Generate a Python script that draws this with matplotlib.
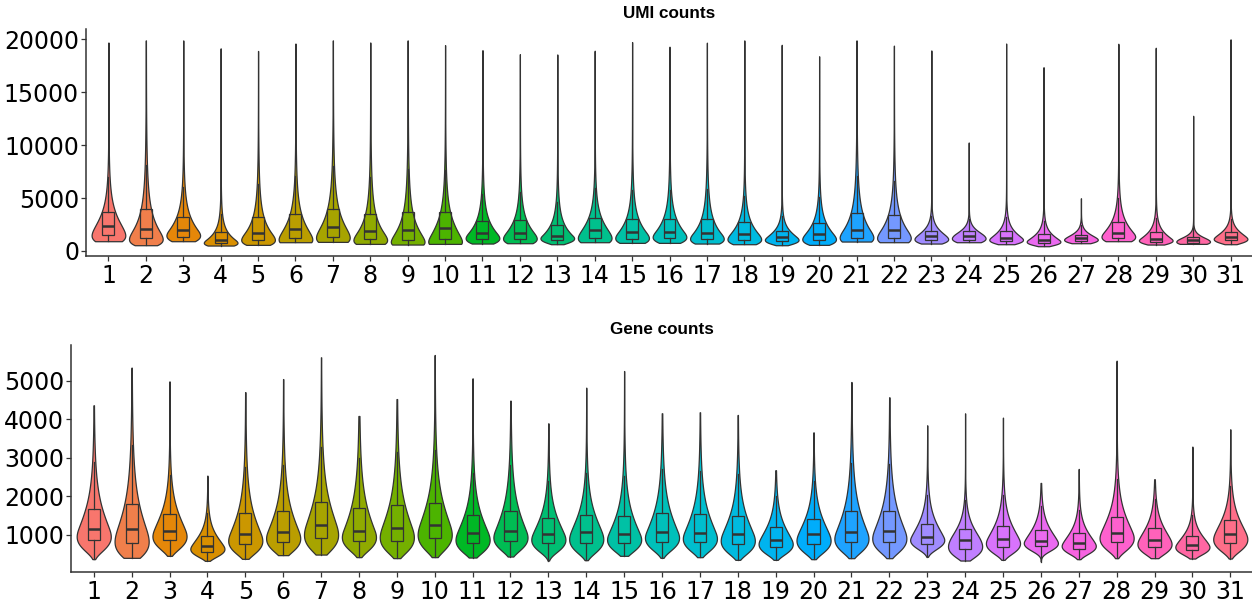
import numpy as np
import matplotlib
matplotlib.use("Agg")
import matplotlib.pyplot as plt

# ---------------- data ----------------
clusters = [str(i) for i in range(1, 32)]

umi_min = [918, 539, 918, 508, 571, 823, 854, 665, 602, 665, 697, 728, 634, 823, 760, 760,
           697, 634, 539, 571, 886, 823, 697, 823, 634, 445, 728, 918, 602, 665, 634]
umi_q1 = [1485, 1233, 1359, 728, 1075, 1201, 1359, 1107, 1075, 1138, 1138, 1138, 1075, 1233,
          1170, 1233, 1107, 1075, 949, 1075, 1264, 1233, 1012, 1075, 949, 791, 949, 1233, 886,
          791, 1012]
umi_med = [2368, 2116, 1958, 1075, 1737, 2053, 2274, 1863, 1990, 2147, 1674, 1737, 1453, 1958,
           1769, 1800, 1674, 1643, 1296, 1643, 1990, 1958, 1390, 1453, 1264, 1075, 1201, 1737,
           1170, 1044, 1327]
umi_q3 = [3692, 3976, 3219, 1832, 3188, 3535, 4008, 3471, 3724, 3724, 2841, 2904, 2494, 3125,
          2998, 3030, 2998, 2715, 1895, 2683, 3597, 3377, 1926, 1863, 1863, 1611, 1548, 2746,
          1769, 1327, 1832]
umi_max = [19700, 19900, 19900, 19150, 18900, 19600, 19900, 19700, 19900, 19450, 18980, 18600,
           18570, 18920, 19740, 19300, 19680, 19900, 19480, 18400, 19900, 19400, 18950, 10250,
           19600, 17370, 4980, 19580, 19200, 12770, 20000]

gene_min = [369, 403, 455, 325, 377, 473, 488, 421, 395, 421, 411, 437, 333, 342, 455, 403,
            420, 351, 351, 368, 394, 394, 429, 333, 351, 307, 368, 394, 394, 385, 385]
gene_q1 = [861, 784, 861, 567, 766, 818, 913, 844, 853, 913, 784, 836, 784, 801, 784, 827,
           810, 766, 680, 766, 810, 818, 775, 636, 697, 706, 636, 818, 680, 610, 792]
gene_med = [1147, 1165, 1113, 714, 1035, 1087, 1260, 1113, 1182, 1251, 1052, 1095, 1017, 1078,
            1017, 1069, 1061, 1035, 879, 1017, 1087, 1104, 939, 870, 896, 844, 784, 1061, 879,
            749, 1026]
gene_q3 = [1675, 1805, 1537, 965, 1563, 1615, 1866, 1710, 1770, 1831, 1511, 1632, 1433, 1520,
           1485, 1580, 1554, 1494, 1216, 1416, 1632, 1632, 1277, 1147, 1234, 1121, 1043, 1476,
           1182, 974, 1381]
gene_max = [4368, 5346, 4991, 2540, 4710, 5050, 5615, 4090, 4530, 5675, 5070, 4488, 3900, 4826,
            5259, 4160, 4186, 4117, 2680, 3665, 4973, 4576, 3849, 4160, 4047, 2350, 2714, 5528,
            2445, 3295, 3745]

umi_ticks = [0, 5000, 10000, 15000, 20000]
gene_ticks = [1000, 2000, 3000, 4000, 5000]


# ---------------- helpers ----------------
def hue_pal(n, c=100.0, l=65.0):
    hues = np.linspace(15, 375, n + 1)[:n]
    cols = []
    Xn, Yn, Zn = 95.047, 100.0, 108.883
    un = 4 * Xn / (Xn + 15 * Yn + 3 * Zn)
    vn = 9 * Yn / (Xn + 15 * Yn + 3 * Zn)
    for h in hues:
        hr = np.deg2rad(h)
        U, V = c * np.cos(hr), c * np.sin(hr)
        Y = Yn * ((l + 16) / 116) ** 3
        up = U / (13 * l) + un
        vp = V / (13 * l) + vn
        X = Y * 9 * up / (4 * vp)
        Z = Y * (12 - 3 * up - 20 * vp) / (4 * vp)
        X, Y, Z = X / 100, Y / 100, Z / 100
        rgb = np.array([3.240479 * X - 1.537150 * Y - 0.498535 * Z,
                        -0.969256 * X + 1.875992 * Y + 0.041556 * Z,
                        0.055648 * X - 0.204043 * Y + 1.057311 * Z])
        rgb = np.where(rgb <= 0.0031308, 12.92 * rgb, 1.055 * np.abs(rgb) ** (1 / 2.4) - 0.055)
        cols.append(tuple(np.clip(rgb, 0, 1)))
    return cols


def violin_stats(vmin, q1, med, q3, vmax):
    """Shape from the read quartiles: two-piece log-normal profile, trimmed at min/max."""
    stats = []
    for a, b, m, c, d in zip(vmin, q1, med, q3, vmax):
        coords = np.linspace(a, d, 1500)
        mu = np.log(m)
        s_lo = np.log(m / b) / 0.6745
        s_hi = np.log(c / m) / 0.6745
        t = np.log(coords)
        s = np.where(t < mu, s_lo, s_hi)
        vals = np.exp(-0.5 * ((t - mu) / s) ** 2) / coords
        stats.append(dict(coords=coords, vals=vals, mean=m, median=m, min=a, max=d))
    return stats


def box_stats(vmin, q1, med, q3, vmax):
    out = []
    for a, b, m, c, d in zip(vmin, q1, med, q3, vmax):
        out.append(dict(med=m, q1=b, q3=c, whislo=max(a, b - 1.5 * (c - b)),
                        whishi=min(d, c + 1.5 * (c - b)), fliers=[]))
    return out


colors = hue_pal(len(clusters))
positions = np.arange(1, len(clusters) + 1)
LINE = "#333333"
TICKFONT = dict(family="DejaVu Sans", size=17)

W, H = 1252, 606
fig = plt.figure(figsize=(W / 100, H / 100), dpi=100)


def panel(rect_px, title, vmin, q1, med, q3, vmax, ticks, ylim):
    x0, y0, x1, y1 = rect_px
    ax = fig.add_axes([x0 / W, 1 - y1 / H, (x1 - x0) / W, (y1 - y0) / H])
    parts = ax.violin(violin_stats(vmin, q1, med, q3, vmax), positions=positions,
                      widths=0.9, showmeans=False, showextrema=False, showmedians=False)
    for body, col in zip(parts["bodies"], colors):
        body.set_facecolor(col)
        body.set_edgecolor(LINE)
        body.set_linewidth(0.9)
        body.set_alpha(1)
    ax.bxp(box_stats(vmin, q1, med, q3, vmax), positions=positions, widths=0.32,
           patch_artist=True, showfliers=False, showcaps=False,
           boxprops=dict(facecolor="none", edgecolor=LINE, linewidth=0.9),
           medianprops=dict(color=LINE, linewidth=1.8),
           whiskerprops=dict(color=LINE, linewidth=0.9))
    ax.set_xlim(0.4, len(clusters) + 0.6)
    ax.set_ylim(*ylim)
    ax.set_xticks(positions)
    ax.set_xticklabels(clusters, fontdict=TICKFONT)
    ax.set_yticks(ticks)
    ax.set_yticklabels([str(t) for t in ticks], fontdict=TICKFONT)
    ax.tick_params(axis="both", length=3.5, width=0.9, color=LINE, labelcolor="black")
    ax.tick_params(axis="x", pad=2.5)
    ax.tick_params(axis="y", pad=1.5)
    for side in ("top", "right"):
        ax.spines[side].set_visible(False)
    for side in ("left", "bottom"):
        ax.spines[side].set_color(LINE)
        ax.spines[side].set_linewidth(1.1)
    ax.set_title(title, fontdict=dict(family="Liberation Sans", size=12.3, weight="bold"),
                 pad=8)
    return ax


panel((86, 29, 1253, 256), "UMI counts", umi_min, umi_q1, umi_med, umi_q3, umi_max,
      umi_ticks, (-480, 20975))
panel((71, 345, 1253, 572), "Gene counts", gene_min, gene_q1, gene_med, gene_q3, gene_max,
      gene_ticks, (35, 5935))

fig.savefig("out.png", dpi=100)
